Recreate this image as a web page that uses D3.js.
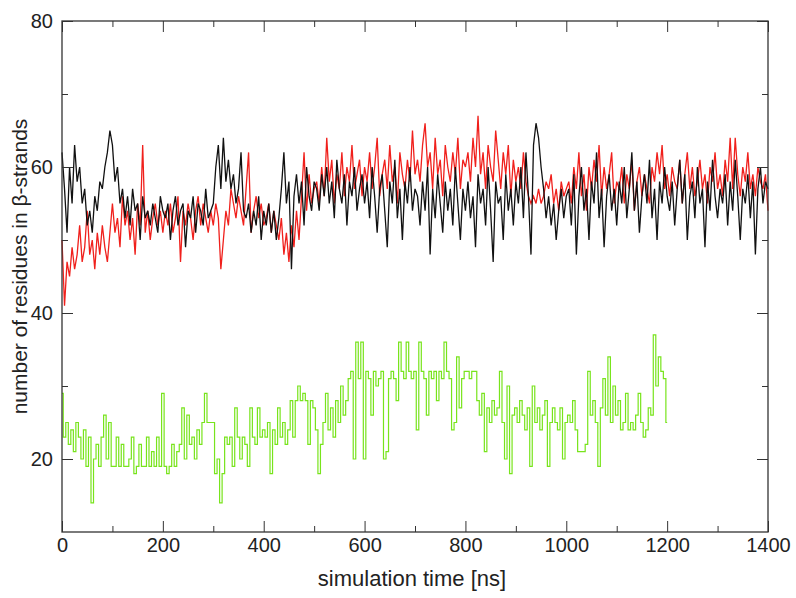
<!DOCTYPE html>
<html><head><meta charset="utf-8">
<script src="https://cdn.jsdelivr.net/npm/d3@7"></script>
<style>body{margin:0;background:#fff}text{font-family:"Liberation Sans",Arial,Helvetica,sans-serif;fill:#222}</style>
</head><body><svg id="c" width="796" height="598"></svg>
<script>
// time step of every series in ns
const step = 5;
const blackValues = [
62,57,51,60,55,63,58,60,55,57,52,54,51,56,54,58,57,60,62,65,63,
58,60,55,57,53,56,52,57,54,55,50,56,53,54,52,55,53,51,56,54,
53,55,50,54,56,52,54,55,49,54,53,56,51,55,54,52,57,53,54,55,
60,63,57,64,58,61,57,59,55,57,62,54,53,55,51,54,52,56,50,54,
52,55,51,54,50,53,57,62,55,58,46,56,59,55,58,52,60,56,54,58,
57,54,59,56,60,55,58,53,61,57,55,59,52,58,56,60,54,57,59,55,
58,53,60,56,51,57,59,54,49,58,55,61,53,57,50,58,55,60,54,57,
56,52,58,54,60,48,57,53,59,55,51,58,54,57,52,60,55,50,57,54,
58,53,56,49,59,55,57,52,60,54,47,58,55,56,50,59,54,57,52,58,
55,60,53,62,56,48,63,66,64,60,57,53,56,52,55,50,54,57,53,56,
57,52,59,48,56,60,54,57,50,58,55,62,53,57,49,56,59,54,57,52,
58,55,60,53,57,62,54,58,51,56,59,55,61,53,57,50,58,55,60,56,
54,58,52,57,61,55,59,50,56,58,53,60,55,57,49,58,54,61,56,53,
57,55,59,52,58,54,61,56,50,57,55,59,53,58,48,57,60,55,58,57];
const redValues = [
50,41,47,45,49,46,48,52,47,49,54,48,50,46,51,48,52,49,47,51,55,
51,53,49,56,52,54,50,53,48,55,52,63,51,54,50,53,55,52,54,51,
54,52,55,51,53,56,47,54,52,55,53,50,54,56,52,55,53,51,54,52,
55,53,46,50,54,52,57,55,53,56,54,52,57,62,51,54,56,53,55,52,
53,55,51,54,52,50,53,48,51,47,52,49,54,50,56,62,54,59,55,57,
58,55,60,56,64,58,61,55,59,57,62,56,60,58,63,57,59,61,56,60,
58,62,57,60,64,56,59,61,57,63,58,60,55,62,59,57,61,58,65,59,
61,58,63,66,60,62,57,64,59,61,56,63,60,58,62,59,64,57,61,60,
62,58,64,60,67,59,62,57,63,60,58,65,61,57,62,59,63,56,61,58,
60,57,62,58,56,55,56,55,57,55,56,58,57,59,55,57,54,58,56,57,
58,55,60,57,62,56,59,54,60,57,61,58,63,56,60,57,59,62,55,58,
57,60,55,59,57,61,54,58,60,56,59,57,55,60,58,62,59,63,57,59,
56,60,58,57,61,55,59,62,57,60,56,58,61,57,59,55,60,58,62,57,
59,56,61,58,64,57,64,59,56,60,58,62,57,59,56,60,58,57,59,54];
const greenValues = [
29,23,25,22,24,21,25,23,20,24,19,23,14,20,22,19,23,26,20,25,19,
19,23,19,22,19,19,20,23,18,19,22,19,19,23,19,21,19,23,19,29,
19,18,19,22,19,21,22,27,20,26,22,23,20,24,22,25,29,25,25,25,
18,20,14,18,23,22,23,19,27,23,20,23,22,19,27,23,22,27,23,24,
23,25,18,24,22,27,23,25,22,24,28,23,28,30,28,29,28,22,28,27,
24,18,22,25,29,24,27,23,28,25,30,26,28,31,32,20,36,31,36,20,
32,31,26,32,30,31,32,20,21,31,32,31,28,36,32,31,36,32,31,32,
24,36,32,31,26,32,31,32,28,32,31,36,32,31,24,25,34,27,31,32,
32,31,32,32,28,26,29,21,27,25,28,26,27,32,25,20,30,18,26,27,
25,28,26,24,27,19,30,25,27,24,26,28,19,25,27,25,24,27,20,25,
26,25,28,24,21,21,21,22,32,26,28,25,19,27,31,26,34,25,30,26,
28,24,25,29,24,25,24,26,29,25,23,24,27,26,37,30,34,32,31,25];
const xMajorTicks = [0,200,400,600,800,1000,1200,1400];
const xMinorTicks = [100,300,500,700,900,1100,1300];
const yMajorTicks = [20,40,60,80];
const yMinorTicks = [30,50,70];
const xTitle = "simulation time [ns]";
const yTitle = "number of residues in β-strands";

const svg = d3.select("#c");
const L = 62, R = 768, T = 21, B = 532;
const x = d3.scaleLinear().domain([0,1400]).range([L,R]);
const y = d3.scaleLinear().domain([10,80]).range([B,T]);

const line = d3.line().x((d,i)=>x(i*step)).y(d=>y(d));
const stepLine = d3.line().x((d,i)=>x(i*step)).y(d=>y(d)).curve(d3.curveStep);
svg.append("path").datum(redValues).attr("d",line).attr("fill","none").attr("stroke","#f0201c").attr("stroke-width",1.3);
svg.append("path").datum(blackValues).attr("d",line).attr("fill","none").attr("stroke","#111").attr("stroke-width",1.3);
svg.append("path").datum(greenValues).attr("d",stepLine).attr("fill","none").attr("stroke","#78e41c").attr("stroke-width",1.2);

const axc = "#333";
function styleAxis(g){ g.select(".domain").remove(); g.selectAll("line").attr("stroke",axc); g.selectAll("text").attr("font-size",20).attr("fill","#222").attr("font-family",null); }
// bottom
svg.append("g").attr("transform",`translate(0,${B})`).call(d3.axisBottom(x).tickValues(xMajorTicks).tickSize(-11).tickPadding(6).tickFormat(d3.format("d"))).call(styleAxis);
svg.append("g").attr("transform",`translate(0,${B})`).call(d3.axisBottom(x).tickValues(xMinorTicks).tickSize(-6).tickFormat("")).call(styleAxis);
// top
svg.append("g").attr("transform",`translate(0,${T})`).call(d3.axisTop(x).tickValues(xMajorTicks).tickSize(-11).tickFormat("")).call(styleAxis);
svg.append("g").attr("transform",`translate(0,${T})`).call(d3.axisTop(x).tickValues(xMinorTicks).tickSize(-6).tickFormat("")).call(styleAxis);
// left
svg.append("g").attr("transform",`translate(${L},0)`).call(d3.axisLeft(y).tickValues(yMajorTicks).tickSize(-11).tickPadding(9).tickFormat(d3.format("d"))).call(styleAxis);
svg.append("g").attr("transform",`translate(${L},0)`).call(d3.axisLeft(y).tickValues(yMinorTicks).tickSize(-6).tickFormat("")).call(styleAxis);
// right
svg.append("g").attr("transform",`translate(${R},0)`).call(d3.axisRight(y).tickValues(yMajorTicks).tickSize(-11).tickFormat("")).call(styleAxis);
svg.append("g").attr("transform",`translate(${R},0)`).call(d3.axisRight(y).tickValues(yMinorTicks).tickSize(-6).tickFormat("")).call(styleAxis);
// frame
svg.append("rect").attr("x",L).attr("y",T).attr("width",R-L).attr("height",B-T).attr("fill","none").attr("stroke",axc).attr("stroke-width",1.3);

svg.append("text").attr("x",412).attr("y",586).attr("text-anchor","middle").attr("font-size",22).text(xTitle);
svg.append("text").attr("transform",`translate(27,${(T+B)/2-10}) rotate(-90)`).attr("text-anchor","middle").attr("font-size",21).text(yTitle);
</script></body></html>
